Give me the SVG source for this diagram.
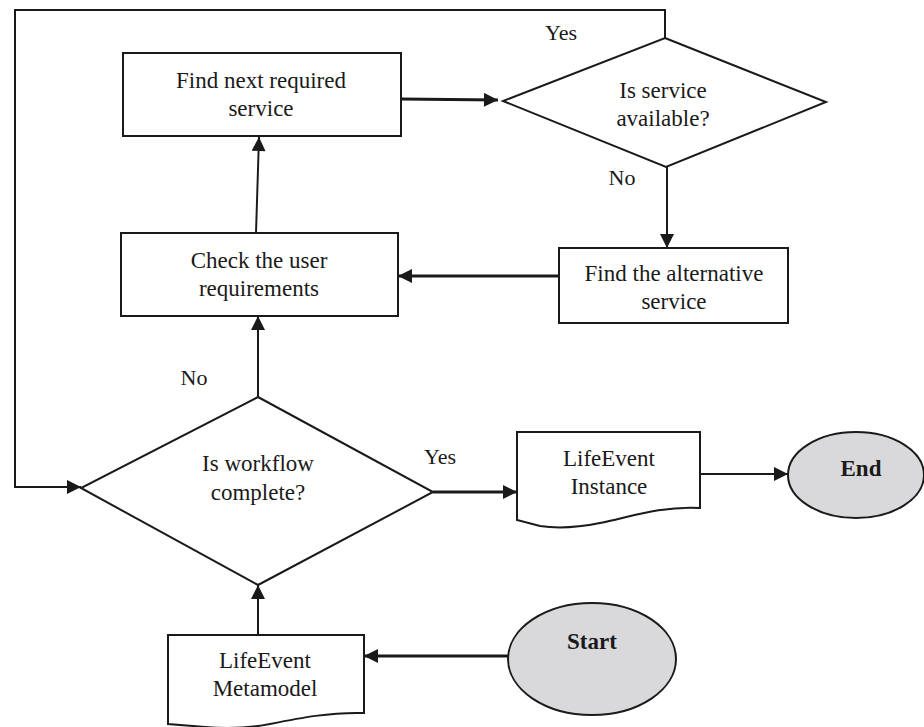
<svg xmlns="http://www.w3.org/2000/svg" width="924" height="727" viewBox="0 0 924 727">
  <defs>
    <marker id="arrow" viewBox="0 0 10 10" refX="10" refY="5" markerWidth="15" markerHeight="14" markerUnits="userSpaceOnUse" orient="auto">
      <path d="M0,0 L10,5 L0,10 z" fill="#1a1a1a"/>
    </marker>
    <style>
      .shape { fill: #ffffff; stroke: #1a1a1a; stroke-width: 2; }
      .term { fill: #d9d9db; stroke: #1a1a1a; stroke-width: 2; }
      .edge { fill: none; stroke: #1a1a1a; stroke-width: 2; }
      .thick { stroke-width: 3; }
      .txt { font-family: "Liberation Serif", "Times New Roman", serif; font-size: 23px; fill: #1a1a1a; text-anchor: middle; }
      .lbl { font-family: "Liberation Serif", "Times New Roman", serif; font-size: 22px; fill: #1a1a1a; text-anchor: middle; }
      .bold { font-weight: bold; }
    </style>
  </defs>

  <rect width="924" height="727" fill="#ffffff"/>

  <!-- connectors -->
  <g id="connectors">
    <polyline class="edge" points="665,38 665,10 15,10 15,487 81,487" marker-end="url(#arrow)"/>
    <line class="edge thick" x1="401" y1="99" x2="498" y2="100" marker-end="url(#arrow)"/>
    <line class="edge" x1="667" y1="167" x2="667" y2="248" marker-end="url(#arrow)"/>
    <line class="edge thick" x1="559" y1="276" x2="398" y2="276" marker-end="url(#arrow)"/>
    <line class="edge" x1="256" y1="233" x2="259" y2="137" marker-end="url(#arrow)"/>
    <line class="edge" x1="258" y1="397" x2="258" y2="316" marker-end="url(#arrow)"/>
    <line class="edge thick" x1="433" y1="492" x2="517" y2="492" marker-end="url(#arrow)"/>
    <line class="edge" x1="700" y1="474" x2="788" y2="474" marker-end="url(#arrow)"/>
    <line class="edge" x1="258" y1="635" x2="258" y2="585" marker-end="url(#arrow)"/>
    <line class="edge thick" x1="508" y1="656" x2="364" y2="656" marker-end="url(#arrow)"/>
    <text class="lbl" x="561" y="40">Yes</text>
    <text class="lbl" x="622" y="185">No</text>
    <text class="lbl" x="194" y="385">No</text>
    <text class="lbl" x="440" y="464">Yes</text>
  </g>

  <g id="find-next-service">
    <rect class="shape" x="123" y="53" width="278" height="83"/>
    <text class="txt" x="261" y="88">Find next required</text>
    <text class="txt" x="261" y="116">service</text>
  </g>

  <g id="service-available">
    <polygon class="shape" points="665,38 826,102 666,167 503,101"/>
    <text class="txt" x="663" y="98">Is service</text>
    <text class="txt" x="663" y="126">available?</text>
  </g>

  <g id="find-alternative">
    <rect class="shape" x="559" y="248" width="229" height="75"/>
    <text class="txt" x="674" y="281">Find the alternative</text>
    <text class="txt" x="674" y="309">service</text>
  </g>

  <g id="check-requirements">
    <rect class="shape" x="121" y="233" width="277" height="83"/>
    <text class="txt" x="259" y="268">Check the user</text>
    <text class="txt" x="259" y="296">requirements</text>
  </g>

  <g id="workflow-complete">
    <polygon class="shape" points="258,397 433,492 258,585 81,488"/>
    <text class="txt" x="258" y="471">Is workflow</text>
    <text class="txt" x="258" y="500">complete?</text>
  </g>

  <g id="lifeevent-instance">
    <path class="shape" d="M517,432 H700 V508 C660,506 630,517 600,523 C580,527 560,529 540,526 L517,520 Z"/>
    <text class="txt" x="609" y="466">LifeEvent</text>
    <text class="txt" x="609" y="494">Instance</text>
  </g>

  <g id="end">
    <ellipse class="term" cx="856" cy="475" rx="68" ry="43"/>
    <text class="txt bold" x="861" y="476">End</text>
  </g>

  <g id="lifeevent-metamodel">
    <path class="shape" d="M168,635 H364 V713 C330,712 300,718 270,724 C250,728 230,729 205,727 L168,724 Z"/>
    <text class="txt" x="265" y="668">LifeEvent</text>
    <text class="txt" x="265" y="696">Metamodel</text>
  </g>

  <g id="start">
    <ellipse class="term" cx="592" cy="659" rx="84" ry="56"/>
    <text class="txt bold" x="592" y="649">Start</text>
  </g>
</svg>
